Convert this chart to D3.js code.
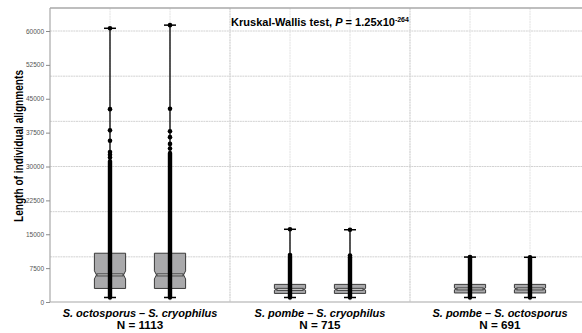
<!DOCTYPE html>
<html>
<head>
<meta charset="utf-8">
<script src="https://cdn.jsdelivr.net/npm/d3@7"></script>
<style>
body { margin: 0; background: #fff; }
svg { display: block; font-family: "Liberation Sans", Arial, sans-serif; }
</style>
</head>
<body>
<svg width="582" height="333"></svg>
<script>
// groups and their sample sizes
const groups = ["S. octosporus – S. cryophilus", "S. pombe – S. cryophilus", "S. pombe – S. octosporus"]
const groupN = [1113, 715, 691]

// six boxes, two per group
const boxGroup = [0, 0, 1, 1, 2, 2]
const mins = [1000, 1000, 1000, 1000, 1000, 1000]
const q1 = [3000, 3000, 1900, 1900, 2000, 2000]
const medians = [6000, 6000, 2800, 2800, 2900, 2900]
const q3 = [10800, 10800, 3900, 3900, 3900, 3900]
const maxs = [60600, 61300, 16100, 16000, 9950, 9900]
const notchHalf = [900, 900, 200, 200, 200, 200]
// upper end of the solid run of overlapping points
const denseTop = [31200, 33000, 10000, 9900, 9900, 9800]
// single points seen above the solid run
const outliers = [
  [32000, 32600, 33200, 35700, 38000, 42700, 60600],
  [34000, 35000, 36500, 37800, 42800, 61300],
  [10400, 16100],
  [10300, 16000],
  [9950],
  [9900]
]

const yTicks = [0, 7500, 15000, 22500, 30000, 37500, 45000, 52500, 60000]
const yGrid = [10000, 20000, 30000, 40000, 50000, 60000]

const svg = d3.select("svg")
const pLeft = 50, pTop = 8, pBottom = 302, pRight = 590

const x = d3.scaleLinear().domain([0, 9]).range([pLeft, pRight])
const y = d3.scaleLinear().domain([0, 60000]).range([pBottom, 31])

const boxes = mins.map((m, i) => ({
  i: i, pos: boxGroup[i] * 3 + 1 + (i % 2),
  min: m, q1: q1[i], med: medians[i], q3: q3[i], max: maxs[i],
  notch: notchHalf[i], dense: denseTop[i], out: outliers[i]
}))

// grid
const grid = svg.append("g")
grid.selectAll(".hg").data(yGrid).join("line")
  .attr("x1", pLeft).attr("x2", 582)
  .attr("y1", d => y(d)).attr("y2", d => y(d))
  .attr("stroke", "#d2d2d2").attr("stroke-width", 1).attr("stroke-dasharray", "2,0.6")
grid.selectAll(".vg").data(boxes).join("line")
  .attr("x1", d => x(d.pos)).attr("x2", d => x(d.pos))
  .attr("y1", pTop).attr("y2", pBottom)
  .attr("stroke", "#e2e2e2").attr("stroke-width", 1).attr("stroke-dasharray", "2,0.6")
grid.selectAll(".sg").data([3, 6]).join("line")
  .attr("x1", d => x(d)).attr("x2", d => x(d))
  .attr("y1", pTop).attr("y2", pBottom)
  .attr("stroke", "#d0d0d0").attr("stroke-width", 1.2).attr("stroke-dasharray", "2,0.6")

// panel borders
svg.append("line").attr("x1", pLeft).attr("x2", 582).attr("y1", pTop).attr("y2", pTop)
  .attr("stroke", "#a8a8a8").attr("stroke-width", 1.6)
svg.append("line").attr("x1", pLeft).attr("x2", pLeft).attr("y1", pTop).attr("y2", pBottom)
  .attr("stroke", "#a8a8a8").attr("stroke-width", 1.2)
svg.append("line").attr("x1", pLeft).attr("x2", 582).attr("y1", pBottom).attr("y2", pBottom)
  .attr("stroke", "#a8a8a8").attr("stroke-width", 1.2)

// y axis
const yAxis = svg.append("g").attr("transform", `translate(${pLeft},0)`)
  .call(d3.axisLeft(y).tickValues(yTicks).tickSize(4).tickPadding(2).tickFormat(d3.format("d")))
yAxis.select(".domain").remove()
yAxis.selectAll(".tick line").attr("stroke", "#8a8a8a")
yAxis.selectAll(".tick text").attr("fill", "#555").style("font-size", "6.5px")
  .style("font-family", "'Liberation Sans', Arial, sans-serif")

svg.append("text")
  .attr("transform", "translate(22.5,146) rotate(-90)")
  .attr("text-anchor", "middle")
  .attr("textLength", 152).attr("lengthAdjust", "spacingAndGlyphs")
  .style("font-size", "12px").style("font-weight", "bold")
  .text("Length of individual alignments")

// boxes
const bw = 0.26
const g = svg.append("g")

function boxPath(d) {
  const l = x(d.pos - bw), r = x(d.pos + bw)
  const nl = x(d.pos - bw * 0.87), nr = x(d.pos + bw * 0.87)
  return d3.line()([
    [l, y(d.q3)], [r, y(d.q3)], [r, y(d.med + d.notch)], [nr, y(d.med)],
    [r, y(d.med - d.notch)], [r, y(d.q1)], [l, y(d.q1)], [l, y(d.med - d.notch)],
    [nl, y(d.med)], [l, y(d.med + d.notch)]
  ]) + "Z"
}

g.selectAll(".box").data(boxes).join("path")
  .attr("d", boxPath)
  .attr("fill", "#a9a9ab").attr("stroke", "#3a3a3a").attr("stroke-width", 1)

g.selectAll(".med").data(boxes).join("line")
  .attr("x1", d => x(d.pos - bw * 0.87)).attr("x2", d => x(d.pos + bw * 0.87))
  .attr("y1", d => y(d.med)).attr("y2", d => y(d.med))
  .attr("stroke", "#3a3a3a").attr("stroke-width", 3)
g.selectAll(".med2").data(boxes).join("line")
  .attr("x1", d => x(d.pos - bw * 0.87) + 1).attr("x2", d => x(d.pos + bw * 0.87) - 1)
  .attr("y1", d => y(d.med)).attr("y2", d => y(d.med))
  .attr("stroke", "#dedede").attr("stroke-width", 1)

// whisker from min to max
g.selectAll(".wh").data(boxes).join("line")
  .attr("x1", d => x(d.pos)).attr("x2", d => x(d.pos))
  .attr("y1", d => y(d.min)).attr("y2", d => y(d.max))
  .attr("stroke", "#000").attr("stroke-width", 1.3)

const cw = 0.1
g.selectAll(".capT").data(boxes).join("line")
  .attr("x1", d => x(d.pos - cw)).attr("x2", d => x(d.pos + cw))
  .attr("y1", d => y(d.max)).attr("y2", d => y(d.max))
  .attr("stroke", "#000").attr("stroke-width", 1.5)
g.selectAll(".capB").data(boxes).join("line")
  .attr("x1", d => x(d.pos - cw)).attr("x2", d => x(d.pos + cw))
  .attr("y1", d => y(d.min)).attr("y2", d => y(d.min))
  .attr("stroke", "#000").attr("stroke-width", 1.5)

// solid run of overlapping points
g.selectAll(".dense").data(boxes).join("line")
  .attr("x1", d => x(d.pos)).attr("x2", d => x(d.pos))
  .attr("y1", d => y(d.min)).attr("y2", d => y(d.dense))
  .attr("stroke", "#000").attr("stroke-width", 4.4).attr("stroke-linecap", "round")

// single points
boxes.forEach(b => {
  g.selectAll(".pt" + b.i).data(b.out).join("circle")
    .attr("cx", x(b.pos)).attr("cy", d => y(d)).attr("r", 2.3).attr("fill", "#000")
})

// title
const title = svg.append("text")
  .attr("x", x(4.5)).attr("y", 26).attr("text-anchor", "middle")
  .style("font-size", "11px").style("font-weight", "bold")
title.append("tspan").text("Kruskal-Wallis test, ")
title.append("tspan").style("font-style", "italic").text("P")
title.append("tspan").text(" = 1.25x10")
title.append("tspan").attr("dy", -4).style("font-size", "7px").text("-264")

// x labels
const lab = svg.append("g").selectAll("g").data(groups).join("g")
lab.append("text")
  .attr("x", (d, i) => x(i * 3 + 1.5)).attr("y", 316.5).attr("text-anchor", "middle")
  .style("font-size", "11px").style("font-weight", "bold")
  .each(function (d) {
    const parts = d.split(" – ")
    const t = d3.select(this)
    t.append("tspan").style("font-style", "italic").text(parts[0])
    t.append("tspan").text(" – ")
    t.append("tspan").style("font-style", "italic").text(parts[1])
  })
lab.append("text")
  .attr("x", (d, i) => x(i * 3 + 1.5)).attr("y", 328.8).attr("text-anchor", "middle")
  .style("font-size", "11.7px").style("font-weight", "bold")
  .text((d, i) => "N = " + groupN[i])
</script>
</body>
</html>
